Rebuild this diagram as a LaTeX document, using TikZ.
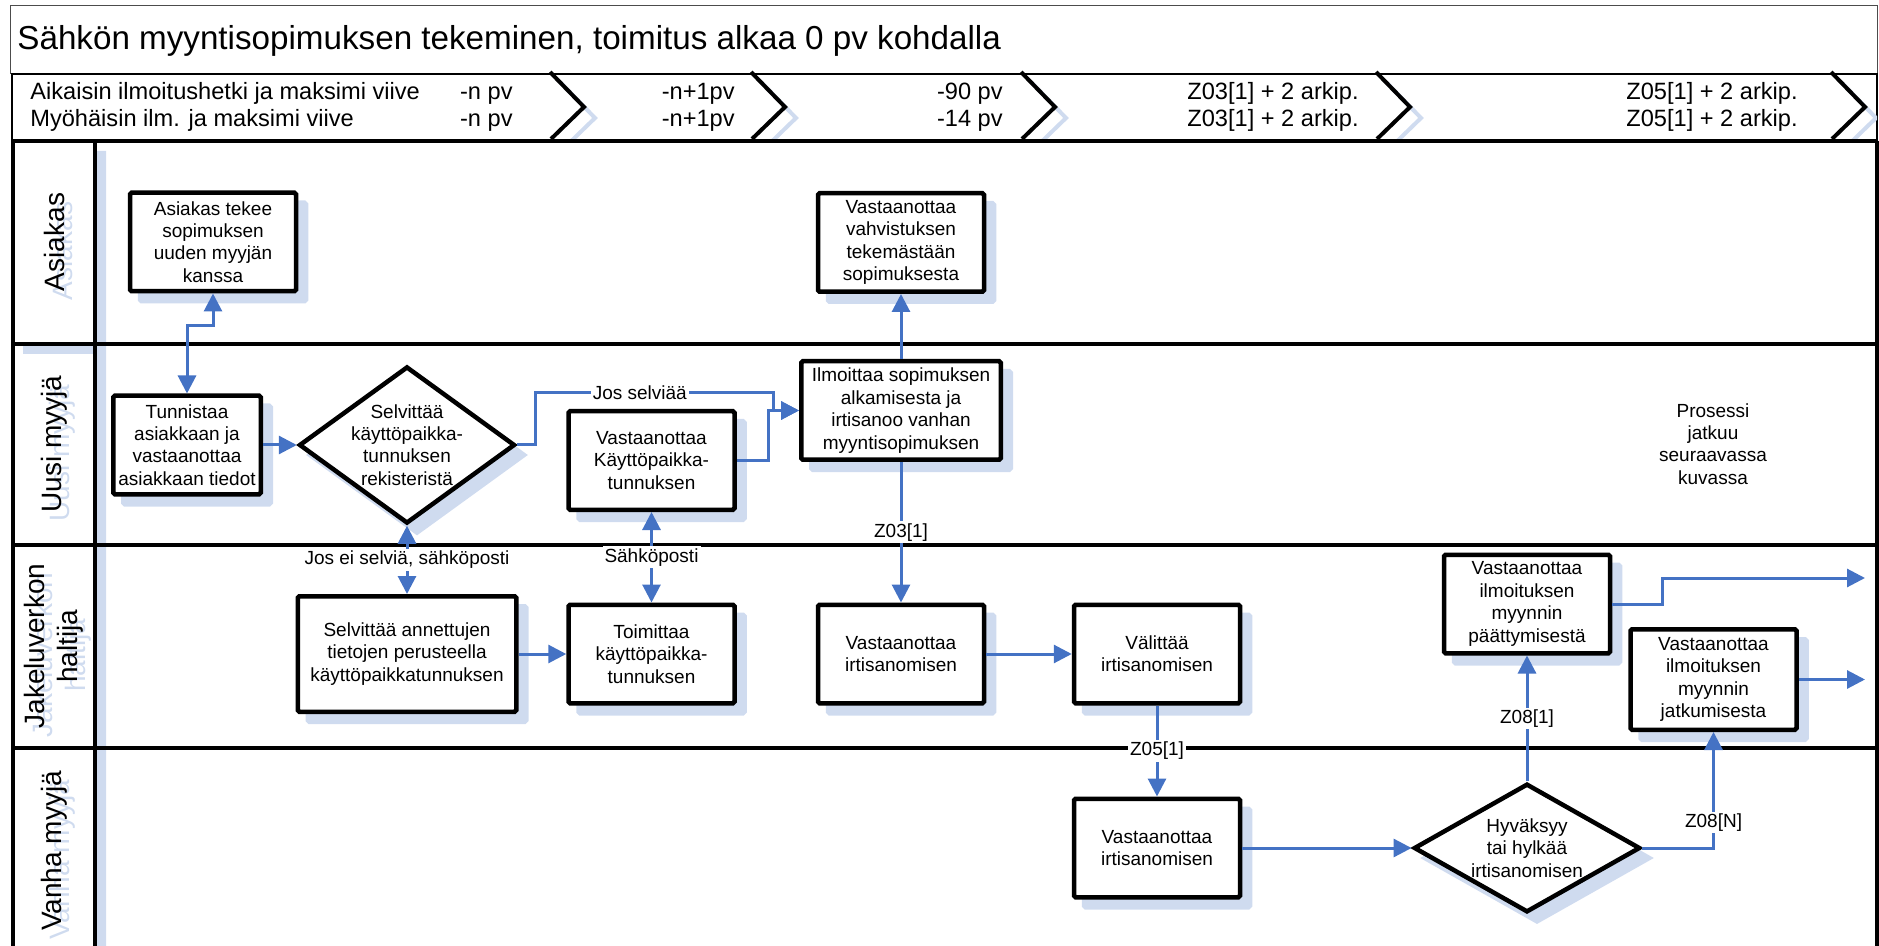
\documentclass[tikz,border=0pt]{standalone}
\usepackage{fontspec}
\setmainfont{Liberation Sans}
\usetikzlibrary{arrows.meta,shapes.geometric,shadows}
\definecolor{flowblue}{RGB}{68,114,196}
\definecolor{ghost}{RGB}{207,219,239}

\begin{document}
\begin{tikzpicture}[x=0.5pt,y=-0.5pt,
    boxfont/.style={font=\fontsize{9.5}{11.2}\selectfont},
    ghosted/.style={copy shadow={shadow xshift=5pt,shadow yshift=-5pt,draw=ghost,fill=ghost}},
    activity/.style={boxfont,draw,fill=white,line width=2.25pt,rounded corners=0.8pt,align=center,
      inner sep=1pt,minimum width=83pt,minimum height=49.25pt,ghosted},
    choice/.style={boxfont,diamond,draw,fill=white,line width=2.25pt,align=center,ghosted},
    flow/.style={draw=flowblue,line width=1.5pt,-{Triangle[length=9pt,width=9pt]}},
    twoway/.style={flow,{Triangle[length=9pt,width=9pt]}-{Triangle[length=9pt,width=9pt]}},
    flowtag/.style={boxfont,fill=white,inner sep=1pt,text=black},
    lanetitle/.style={rotate=90,align=center,font=\fontsize{14}{16.5}\selectfont},
    timetext/.style={font=\fontsize{11.8}{13}\selectfont,inner sep=0pt},
    chevron/.style={line width=2pt,line join=miter}]
  \useasboundingbox (0,0) rectangle (1879,946);
  \draw[gray!60!black,line width=0.5pt] (10,6) rectangle (1877,74);
  \draw (17,50) node[anchor=base west,inner sep=0pt,font=\fontsize{16.6}{20}\selectfont] (title)
    {Sähkön myyntisopimuksen tekeminen, toimitus alkaa 0 pv kohdalla};
  \draw[line width=1.2pt] (12,74) rectangle (1877,141);
  \begin{scope}
    \clip (12,74) rectangle (1877,141);
    \foreach \cx in {550,751,1021,1376,1831}
      \draw[ghost,chevron] (\cx+11,83) -- (\cx+45,118) -- (\cx+12,150);
  \end{scope}
  \foreach \cx in {550,751,1021,1376,1831}
    \draw[chevron] (\cx,72) -- (\cx+34,107) -- (\cx+1,139);
  \draw
    (30,100) node[timetext,anchor=base west] (early) {Aikaisin ilmoitushetki ja maksimi viive}
    (30,127) node[timetext,anchor=base west] (late) {Myöhäisin ilm. ja maksimi viive}
    (513,100) node[timetext,anchor=base east] (e1) {-n pv}
    (513,127) node[timetext,anchor=base east] (l1) {-n pv}
    (735,100) node[timetext,anchor=base east] (e2) {-n+1pv}
    (735,127) node[timetext,anchor=base east] (l2) {-n+1pv}
    (1003,100) node[timetext,anchor=base east] (e3) {-90 pv}
    (1003,127) node[timetext,anchor=base east] (l3) {-14 pv}
    (1359,100) node[timetext,anchor=base east] (e4) {Z03[1] + 2 arkip.}
    (1359,127) node[timetext,anchor=base east] (l4) {Z03[1] + 2 arkip.}
    (1798,100) node[timetext,anchor=base east] (e5) {Z05[1] + 2 arkip.}
    (1798,127) node[timetext,anchor=base east] (l5) {Z05[1] + 2 arkip.};
  \fill[ghost] (95,151) rectangle (106,960) (23,344) rectangle (95,354);
  \draw[line width=1.75pt] (13,141) -- (1877,141) (13,344) -- (1877,344) (13,545) -- (1877,545)
    (13,748) -- (1877,748) (13,141) -- (13,960) (95,141) -- (95,960) (1877,141) -- (1877,960);
  \draw
    (62,251) node[lanetitle,text=ghost] (gAsiakas) {Asiakas}
    (62,453) node[lanetitle,text=ghost] (gUusi) {Uusi myyjä}
    (62,655) node[lanetitle,text=ghost] (gJakelu) {Jakeluverkon\\haltija}
    (62,860) node[lanetitle,text=ghost] (gVanha) {Vanha myyjä}
    (54,242) node[lanetitle] (asiakas) {Asiakas}
    (54,444) node[lanetitle] (uusi) {Uusi myyjä}
    (54,646) node[lanetitle] (jakelu) {Jakeluverkon\\haltija}
    (54,851) node[lanetitle] (vanha) {Vanha myyjä};
  \draw
    (213,242) node[activity] (deal) {Asiakas tekee\\sopimuksen\\uuden myyjän\\kanssa}
    (901,242.5) node[activity] (confirm) {Vastaanottaa\\vahvistuksen\\tekemästään\\sopimuksesta}
    (187,445) node[activity,minimum width=73.75pt] (ident) {Tunnistaa\\asiakkaan ja\\vastaanottaa\\asiakkaan tiedot}
    (407,445) node[choice,aspect=1.375,inner sep=-0.8pt] (lookup) {Selvittää\\käyttöpaikka-\\tunnuksen\\rekisteristä}
    (651.5,460.5) node[activity] (getid) {Vastaanottaa\\Käyttöpaikka-\\tunnuksen}
    (901,410.5) node[activity,minimum width=99.75pt] (notify) {Ilmoittaa sopimuksen\\alkamisesta ja\\irtisanoo vanhan\\myyntisopimuksen}
    (1713,444) node[boxfont,align=center] (nextpage) {Prosessi\\jatkuu\\seuraavassa\\kuvassa}
    (407,654) node[activity,minimum width=109.25pt,minimum height=57.75pt] (search) {Selvittää annettujen\\tietojen perusteella\\käyttöpaikkatunnuksen}
    (651.5,654) node[activity] (deliver) {Toimittaa\\käyttöpaikka-\\tunnuksen}
    (901,654) node[activity] (endrecv) {Vastaanottaa\\irtisanomisen}
    (1157,654) node[activity] (forward) {Välittää\\irtisanomisen}
    (1527,604) node[activity] (ended) {Vastaanottaa\\ilmoituksen\\myynnin\\päättymisestä}
    (1713.5,679.5) node[activity,minimum height=50.25pt] (goeson) {Vastaanottaa\\ilmoituksen\\myynnin\\jatkumisesta}
    (1157,848) node[activity] (oldrecv) {Vastaanottaa\\irtisanomisen}
    (1527,848) node[choice,aspect=1.76,inner sep=1pt] (accept) {Hyväksyy\\tai hylkää\\irtisanomisen};
  \coordinate (out1) at (1865,578);
  \coordinate (out2) at (1865,679.5);
  \begin{scope}
    \draw[twoway] (ident.north) -- (ident.north |- 0,326) -| (deal.south);
    \draw[flow] (ident.east) -- (lookup.west);
    \draw[flow] (lookup.east) -- ++(18,0) |- node[flowtag,pos=0.72] {Jos selviää} (773,393) |- (notify.west);
    \draw[flow] (getid.east) -- (getid.east -| 768,0) |- (notify.west);
    \draw[flow] (notify.north) -- (confirm.south);
    \draw[flow] (notify.south) -- node[flowtag] {Z03[1]} (endrecv.north);
    \draw[twoway] (lookup.south) -- node[flowtag] {Jos ei selviä, sähköposti} (search.north);
    \draw[twoway] (getid.south) -- node[flowtag] {Sähköposti} (deliver.north);
    \draw[flow] (search.east) -- (deliver.west);
    \draw[flow] (endrecv.east) -- (forward.west);
    \draw[flow] (forward.south) -- node[flowtag] {Z05[1]} (oldrecv.north);
    \draw[flow] (oldrecv.east) -- (accept.west);
    \draw[flow] (accept.north) -- node[flowtag] {Z08[1]} (ended.south);
    \draw[flow] (accept.east) -| node[flowtag,pos=0.61] {Z08[N]} (goeson.south);
    \draw[flow] (ended.east) -- ++(50,0) |- (out1);
    \draw[flow] (goeson.east) -- (out2);
  \end{scope}
\end{tikzpicture}
\end{document}
